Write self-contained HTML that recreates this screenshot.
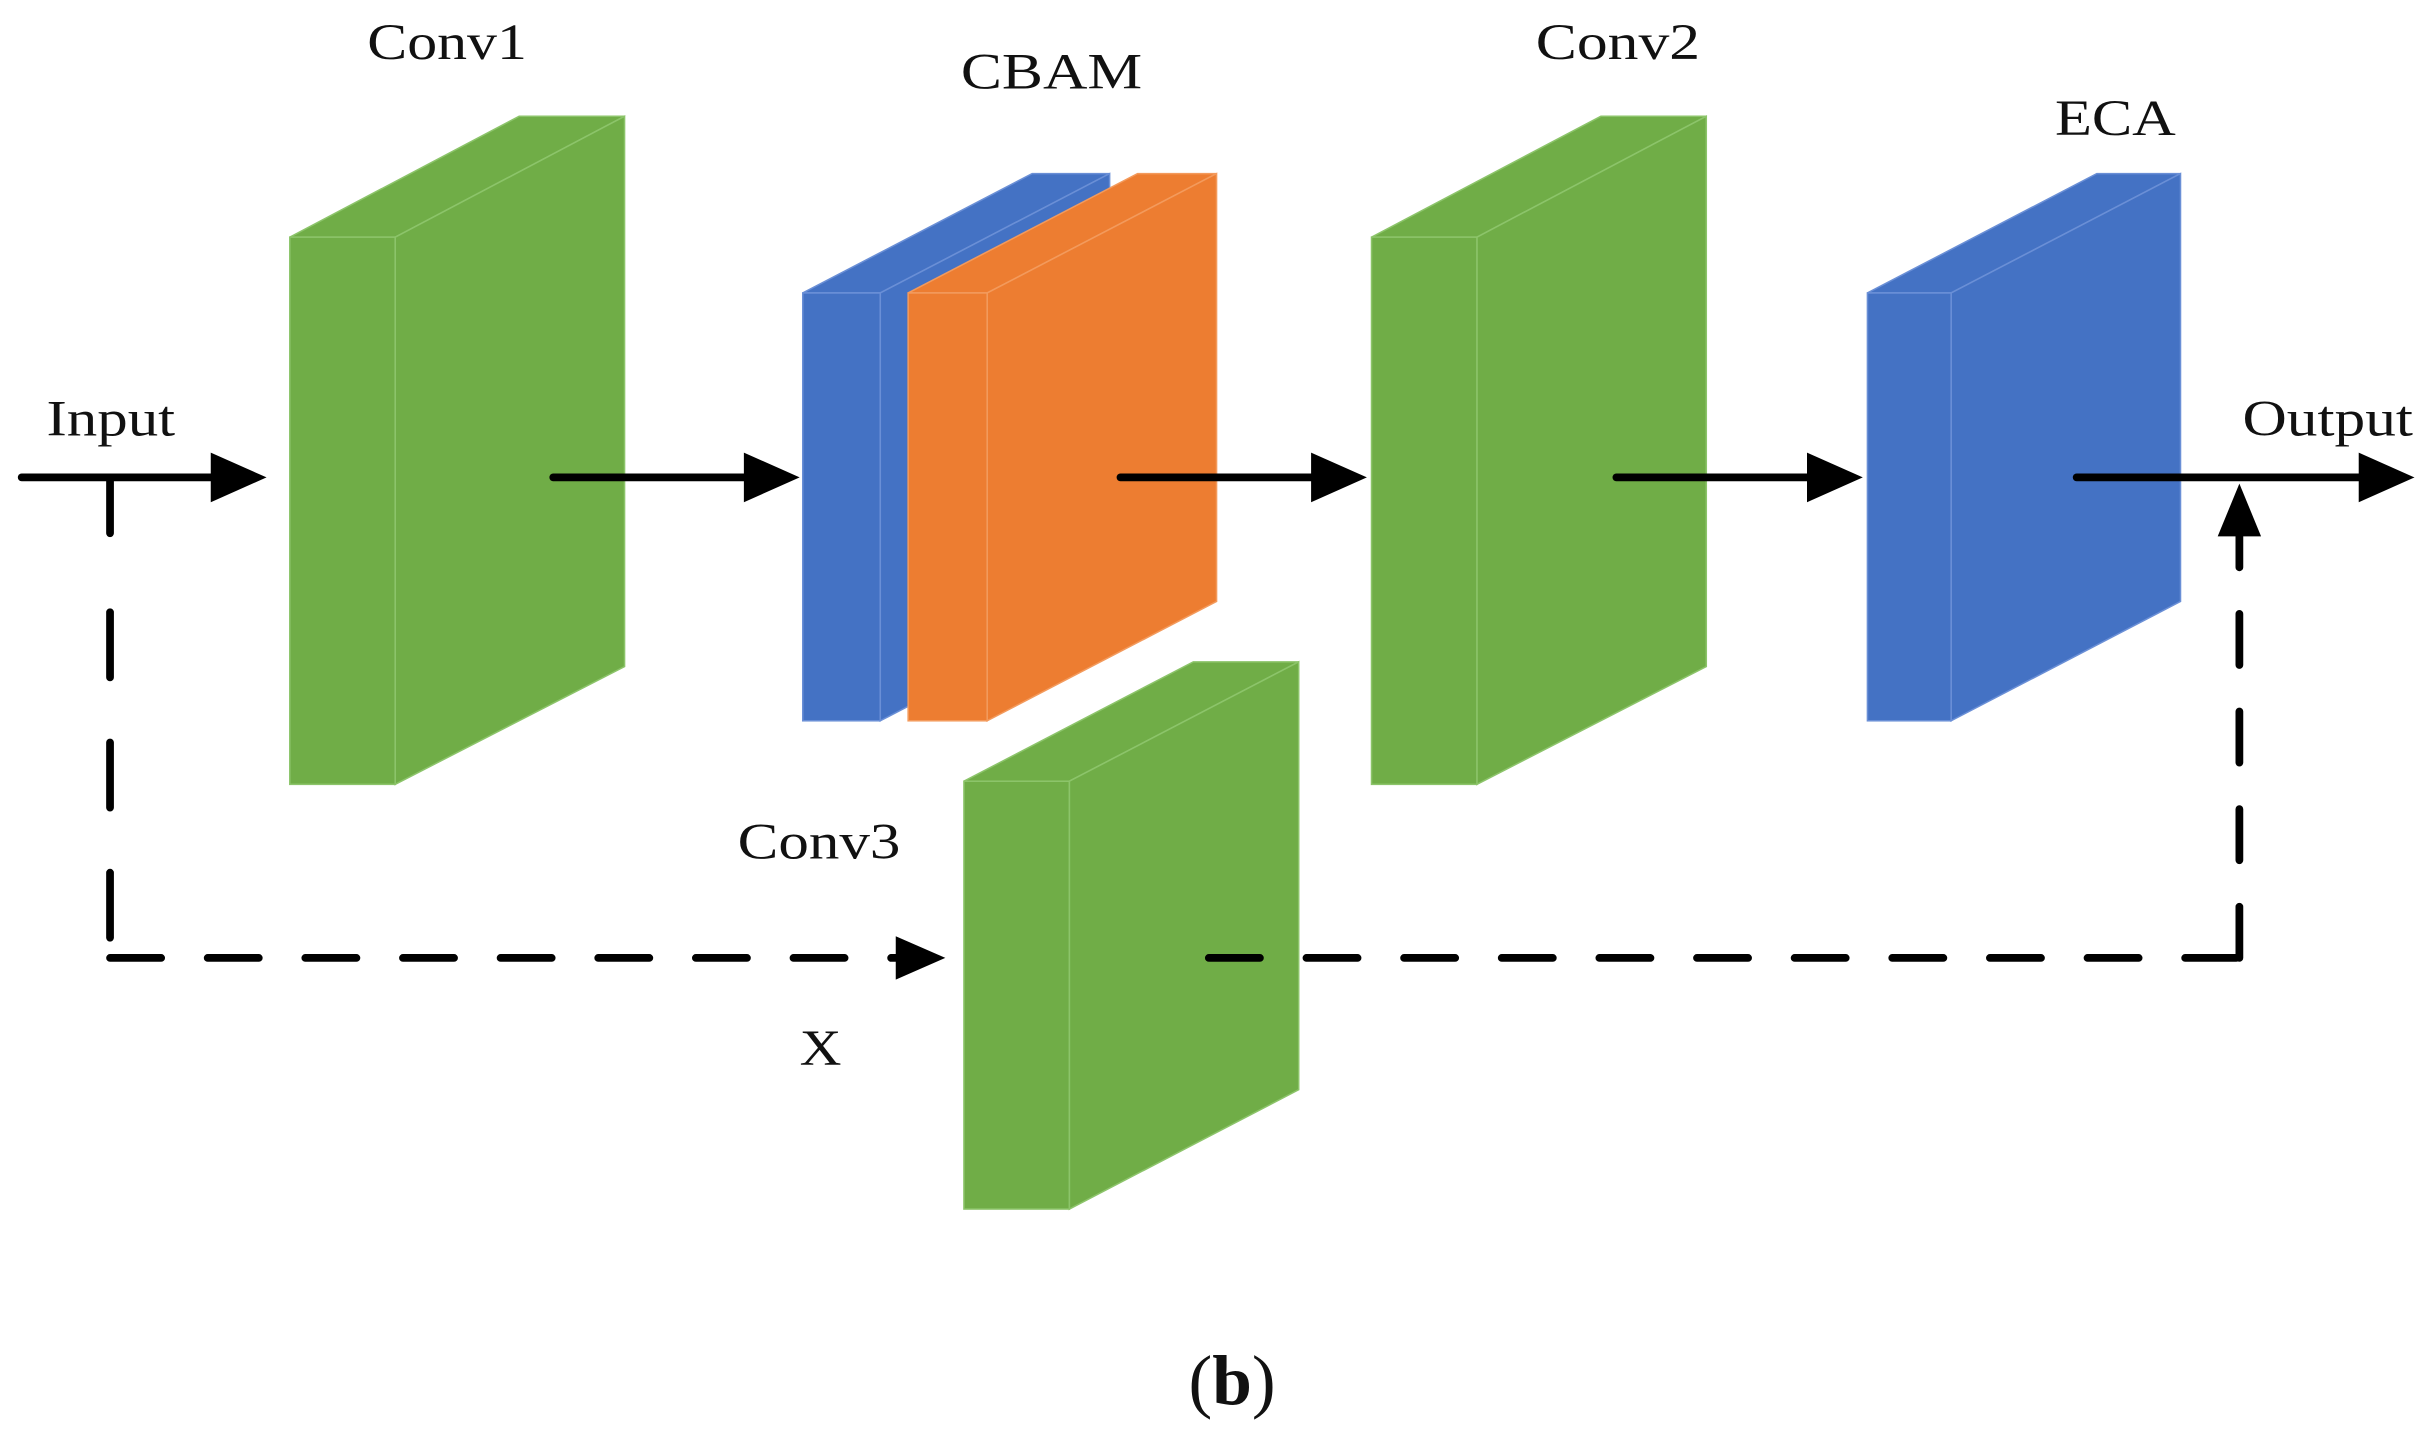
<!DOCTYPE html>
<html><head><style>html,body{margin:0;padding:0;background:#fff}svg{display:block}</style></head>
<body>
<svg width="2430" height="1440" viewBox="0 0 1568 929" preserveAspectRatio="none" xmlns="http://www.w3.org/2000/svg" font-family="Liberation Serif, serif">
<g stroke-width="1">
<polygon points="187,153 335,75 403,75 255,153" fill="#70AD47" stroke="#8cc46a"/>
<polygon points="255,153 403,75 403,430 255,506" fill="#70AD47" stroke="#8cc46a"/>
<rect x="187" y="153" width="68" height="353" fill="#70AD47" stroke="#8cc46a"/>
<polygon points="518,189 666,112 716,112 568,189" fill="#4472C4" stroke="#6a8fd6"/>
<polygon points="568,189 716,112 716,388 568,465" fill="#4472C4" stroke="#6a8fd6"/>
<rect x="518" y="189" width="50" height="276" fill="#4472C4" stroke="#6a8fd6"/>
<polygon points="586,189 734,112 785,112 637,189" fill="#ED7D31" stroke="#f39a5c"/>
<polygon points="637,189 785,112 785,388 637,465" fill="#ED7D31" stroke="#f39a5c"/>
<rect x="586" y="189" width="51" height="276" fill="#ED7D31" stroke="#f39a5c"/>
<polygon points="885,153 1033,75 1101,75 953,153" fill="#70AD47" stroke="#8cc46a"/>
<polygon points="953,153 1101,75 1101,430 953,506" fill="#70AD47" stroke="#8cc46a"/>
<rect x="885" y="153" width="68" height="353" fill="#70AD47" stroke="#8cc46a"/>
<polygon points="1205,189 1353,112 1407,112 1259,189" fill="#4472C4" stroke="#6a8fd6"/>
<polygon points="1259,189 1407,112 1407,388 1259,465" fill="#4472C4" stroke="#6a8fd6"/>
<rect x="1205" y="189" width="54" height="276" fill="#4472C4" stroke="#6a8fd6"/>
<polygon points="622,504 770,427 838,427 690,504" fill="#70AD47" stroke="#8cc46a"/>
<polygon points="690,504 838,427 838,703 690,780" fill="#70AD47" stroke="#8cc46a"/>
<rect x="622" y="504" width="68" height="276" fill="#70AD47" stroke="#8cc46a"/>
</g>
<g stroke="#000" stroke-width="5" stroke-linecap="round">
<line x1="14" y1="308" x2="140" y2="308"/>
<line x1="357" y1="308" x2="484" y2="308"/>
<line x1="723" y1="308" x2="850" y2="308"/>
<line x1="1043" y1="308" x2="1170" y2="308"/>
<line x1="1340" y1="308" x2="1526" y2="308"/>
</g>
<g fill="#000">
<path d="M136,292 L172,308 L136,324 Z"/>
<path d="M480,292 L516,308 L480,324 Z"/>
<path d="M846,292 L882,308 L846,324 Z"/>
<path d="M1166,292 L1202,308 L1166,324 Z"/>
<path d="M1522,292 L1558,308 L1522,324 Z"/>
<path d="M578,604 L610,618 L578,632 Z"/>
<path d="M1431,346 L1445,312 L1459,346 Z"/>
</g>
<g stroke="#000" stroke-width="5" stroke-linecap="round" fill="none">
<line x1="71" y1="310" x2="71" y2="344"/>
<line x1="71" y1="395" x2="71" y2="605" stroke-dasharray="42,42"/>
<line x1="71" y1="618" x2="580" y2="618" stroke-dasharray="33,30"/>
<line x1="780" y1="618" x2="1445" y2="618" stroke-dasharray="33,30"/>
<line x1="1445" y1="618" x2="1445" y2="346" stroke-dasharray="33,30"/>
</g>
<g font-size="33" fill="#111" lengthAdjust="spacingAndGlyphs">
<text x="237" y="38" textLength="103" lengthAdjust="spacingAndGlyphs">Conv1</text>
<text x="620" y="57" textLength="117" lengthAdjust="spacingAndGlyphs">CBAM</text>
<text x="991" y="38" textLength="106" lengthAdjust="spacingAndGlyphs">Conv2</text>
<text x="1326" y="87" textLength="78" lengthAdjust="spacingAndGlyphs">ECA</text>
<text x="30" y="281" textLength="83" lengthAdjust="spacingAndGlyphs">Input</text>
<text x="1447" y="281" textLength="110" lengthAdjust="spacingAndGlyphs">Output</text>
<text x="476" y="554" textLength="105" lengthAdjust="spacingAndGlyphs">Conv3</text>
<text x="516" y="687" textLength="27" lengthAdjust="spacingAndGlyphs">X</text>
<text x="795" y="906" font-size="46" text-anchor="middle">(<tspan font-weight="bold">b</tspan>)</text>
</g>
</svg>
</body></html>
